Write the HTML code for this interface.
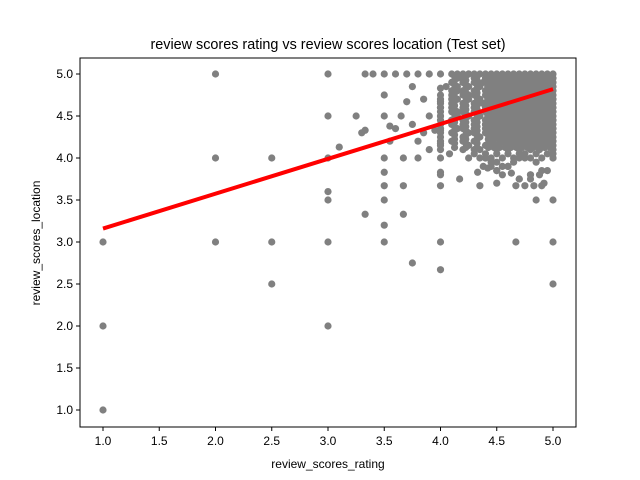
<!DOCTYPE html>
<html><head><meta charset="utf-8"><style>
body{margin:0;background:#fff}
svg{display:block;font-family:"Liberation Sans","DejaVu Sans",sans-serif}
</style></head><body>
<svg id="chart" width="640" height="480">
<rect width="640" height="480" fill="#fff"/>
<g id="pts"></g>
<g id="line"></g>
<rect x="80" y="58" width="496" height="369" fill="none" stroke="#000" stroke-width="1"/>
<g id="ticks" font-size="12" fill="#000"></g>
<text x="328" y="49" text-anchor="middle" font-size="14.4">review scores rating vs review scores location (Test set)</text>
<text x="328" y="468" text-anchor="middle" font-size="12">review_scores_rating</text>
<text transform="translate(40,243) rotate(-90)" text-anchor="middle" font-size="12">review_scores_location</text>
</svg>
<script>
const xTicks=[1.0,1.5,2.0,2.5,3.0,3.5,4.0,4.5,5.0];
const yTicks=[1.0,1.5,2.0,2.5,3.0,3.5,4.0,4.5,5.0];
const lineX=[1.0,5.0];
const lineY=[3.16,4.82];
const ptsX=[1,1,1,2,2,2,2.5,2.5,2.5,3,3,3,3,3,3,3,3.25,3.33,3.33,3.33,3.4,3.5,3.5,3.5,3.5,3.5,3.5,3.5,3.5,3.67,3.67,3.67,3.75,3.8,3.6,3.7,3.8,3.9,4,4,4,4,4,4,4,4.67,5,5,5,5,4.9,4.8,4.85,3.1,3.3,3.55,3.65,3.7,3.75,3.85,3.9,3.95,3.55,3.5,3.6,3.75,3.85,3.9,3.8,4,4,4,4,4,4,4.1,4.15,4.2,4.25,4.3,4.35,4.4,4.3,4.2,4.4,4.45,4.5,4.55,4.35,4.25,4.15,4.1,4.2,4.3,4.4,4.5,4.6,4.7,4.8,4.45,4.55,4.65,4.75,4.85,4.95,4.5,4.6,4.7,4.8,4.9,4.38,4.42,4.63,4.33,4.67,4.75,4.83,4.88,4.92,4.17,4.08,4.25,4.5];
const ptsY=[3,2,1,5,4,3,4,3,2.5,5,4.5,4,3.6,3.5,3,2,4.5,5,4.33,3.33,5,5,4.5,4,3.83,3.67,3.5,3.2,3,4,3.67,3.33,2.75,4,5,5,5,5,5,3,2.67,3.67,3.83,4,4.17,3,3,2.5,3.5,4,3.67,3.75,3.5,4.13,4.3,4.38,4.5,4.67,4.85,4.7,4.5,4.33,4.2,4.75,4.35,4.4,4.3,4.1,4.2,4.33,4.5,4.67,4.83,3.8,4.6,4.7,4.8,4.9,5,4.6,4.5,4.4,4.3,4.2,4.0,3.9,3.85,3.8,3.67,4.75,4.55,4.45,4.35,4.1,4.0,3.95,3.9,3.75,3.8,3.95,3.9,3.95,4.0,3.95,3.85,3.85,3.9,3.75,3.8,3.85,3.9,3.88,3.82,3.83,3.67,3.67,3.67,3.8,3.7,3.75,4.05,4.0,3.7,3.83];
const clusterY=[5.0,4.95,4.9,4.85,4.8,4.75,4.7,4.65,4.6,4.55,4.5,4.45,4.4,4.35,4.3,4.25,4.2,4.15,4.1];
const clusterX=[
[4.1,4.15,4.2,4.25,4.3,4.35,4.4,4.45,4.5,4.55,4.6,4.65,4.7,4.75,4.8,4.85,4.9,4.95,5],
[4.15,4.2,4.3,4.4,4.45,4.5,4.55,4.6,4.65,4.7,4.75,4.8,4.85,4.9,4.95,5],
[4.1,4.2,4.3,4.38,4.45,4.5,4.55,4.6,4.65,4.7,4.75,4.8,4.85,4.9,4.95,5],
[4.05,4.15,4.25,4.35,4.42,4.5,4.55,4.6,4.65,4.7,4.75,4.8,4.85,4.9,4.95,5],
[4.1,4.2,4.3,4.4,4.45,4.5,4.55,4.6,4.65,4.7,4.75,4.8,4.85,4.9,4.95,5],
[4,4.1,4.2,4.3,4.4,4.45,4.5,4.55,4.6,4.65,4.7,4.75,4.8,4.85,4.9,4.95,5],
[4,4.15,4.25,4.35,4.42,4.5,4.55,4.6,4.65,4.7,4.75,4.8,4.85,4.9,4.95,5],
[4,4.1,4.2,4.3,4.38,4.45,4.5,4.55,4.6,4.65,4.7,4.75,4.8,4.85,4.9,4.95,5],
[4,4.1,4.2,4.3,4.4,4.45,4.5,4.55,4.6,4.65,4.7,4.75,4.8,4.85,4.9,4.95,5],
[4,4.1,4.2,4.3,4.4,4.45,4.5,4.55,4.6,4.65,4.7,4.75,4.8,4.85,4.9,4.95,5],
[4,4.15,4.25,4.35,4.42,4.5,4.55,4.6,4.65,4.7,4.75,4.8,4.85,4.9,4.95,5],
[4,4.1,4.2,4.3,4.4,4.45,4.5,4.55,4.6,4.65,4.7,4.75,4.8,4.85,4.9,4.95,5],
[4,4.1,4.2,4.3,4.4,4.45,4.5,4.55,4.6,4.65,4.7,4.75,4.8,4.85,4.9,4.95,5],
[4,4.15,4.3,4.4,4.5,4.55,4.6,4.65,4.7,4.75,4.8,4.85,4.9,4.95,5],
[4,4.1,4.25,4.4,4.5,4.55,4.6,4.65,4.7,4.75,4.8,4.85,4.9,4.95,5],
[4,4.2,4.35,4.45,4.55,4.6,4.65,4.7,4.75,4.8,4.85,4.9,4.95,5],
[4,4.1,4.3,4.45,4.55,4.6,4.65,4.7,4.75,4.8,4.85,4.9,5],
[4,4.25,4.4,4.5,4.6,4.67,4.75,4.8,4.85,4.92,5],
[4,4.2,4.35,4.5,4.6,4.7,4.8,4.88,5]
];
const fillY=[4.975,4.925,4.875,4.825,4.775,4.725,4.675,4.625,4.575,4.525,4.475,4.425,4.375,4.325,4.275,4.225,4.175,4.125];
const fillX=[4.125,4.225,4.325,4.425,4.475,4.525,4.575,4.625,4.675,4.725,4.775,4.825,4.875,4.925,4.975];
const lowY=[4.05,4.0];
const lowX=[[4.3,4.4,4.5,4.6,4.7,4.75,4.85,4.95,5],[4.35,4.45,4.55,4.65,4.7,4.8,4.9,5]];
const X0=80,X1=576,Y0=58,Y1=427;
function sx(v){return 103+(v-1)*112.5;}
function sy(v){return 410-(v-1)*84;}
const NS="http://www.w3.org/2000/svg";
const pg=document.getElementById('pts');
function dot(x,y){
  const c=document.createElementNS(NS,'circle');
  c.setAttribute('cx',sx(x));c.setAttribute('cy',sy(y));c.setAttribute('r',3.6);c.setAttribute('fill','#808080');
  
  
  pg.appendChild(c);
}
for(let i=0;i<ptsX.length;i++)dot(ptsX[i],ptsY[i]);
for(let r=0;r<clusterY.length;r++)for(const x of clusterX[r])dot(x,clusterY[r]);
for(const y of fillY)for(const x of fillX)dot(x,y);
for(let r=0;r<lowY.length;r++)for(const x of lowX[r])dot(x,lowY[r]);
const lg=document.getElementById('line');
const ln=document.createElementNS(NS,'line');
ln.setAttribute('x1',sx(lineX[0]));ln.setAttribute('y1',sy(lineY[0]));
ln.setAttribute('x2',sx(lineX[1]));ln.setAttribute('y2',sy(lineY[1]));
ln.setAttribute('stroke','#ff0000');ln.setAttribute('stroke-width',4);


lg.appendChild(ln);
const tg=document.getElementById('ticks');
for(const t of xTicks){
  const l=document.createElementNS(NS,'line');
  l.setAttribute('x1',sx(t));l.setAttribute('x2',sx(t));l.setAttribute('y1',Y1);l.setAttribute('y2',Y1+4);l.setAttribute('stroke','#000');
  
  
  tg.appendChild(l);
  const tx=document.createElementNS(NS,'text');
  tx.setAttribute('x',sx(t));tx.setAttribute('y',Y1+18);tx.setAttribute('text-anchor','middle');tx.textContent=t.toFixed(1);
  
  
  tg.appendChild(tx);
}
for(const t of yTicks){
  const l=document.createElementNS(NS,'line');
  l.setAttribute('x1',X0-4);l.setAttribute('x2',X0);l.setAttribute('y1',sy(t));l.setAttribute('y2',sy(t));l.setAttribute('stroke','#000');
  
  
  tg.appendChild(l);
  const tx=document.createElementNS(NS,'text');
  tx.setAttribute('x',X0-7);tx.setAttribute('y',sy(t)+4);tx.setAttribute('text-anchor','end');tx.textContent=t.toFixed(1);
  
  
  tg.appendChild(tx);
}
</script>
</body></html>
